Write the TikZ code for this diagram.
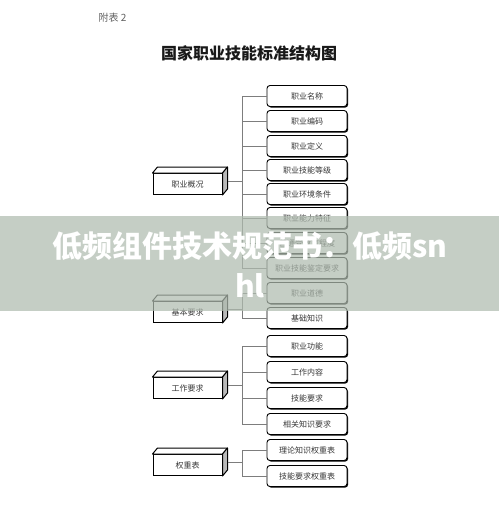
\documentclass[tikz,border=0pt]{standalone}
\usepackage{fontspec}
\newfontfamily\cjk{Noto Sans CJK SC}
\usetikzlibrary{shadows,calc}
\definecolor{band}{RGB}{176,188,176}
\definecolor{wirec}{RGB}{125,125,125}
\definecolor{txt}{RGB}{55,55,55}
\begin{document}
\begin{tikzpicture}[x=1pt,y=-1pt,font=\cjk,
  leaf/.style={draw=black,line width=0.9pt,rounded corners=3pt,minimum width=80,minimum height=21,inner sep=0pt,fill=white,text=txt,font=\cjk\fontsize{8}{9}\selectfont,drop shadow={shadow xshift=1.1pt,shadow yshift=-1.1pt,fill=black,opacity=1}},
  front/.style={draw=black,line width=1pt,minimum width=69,minimum height=21,inner sep=0pt,fill=white,text=txt,font=\cjk\fontsize{8}{9}\selectfont},
  sideface/.style={draw=black,line width=1pt,fill=gray!55,line join=round},
  topface/.style={draw=black,line width=1pt,fill=white,line join=round},
  wire/.style={draw=wirec,line width=0.8pt}]
\useasboundingbox (0,0) rectangle (499,528);
\fill[white] (0,0) rectangle (499,528);

\node[anchor=west,text=gray!75!black,font=\cjk\fontsize{10}{12}\selectfont] (hdr) at (95,18) {附表 2};
\node[font=\cjk\bfseries\fontsize{16}{18}\selectfont,text=black!90] (ttl) at (249,53) {国家职业技能标准结构图};

% leaves
\foreach \i/\y/\t in {1/96/职业名称,2/121/职业编码,3/146/职业定义,4/170/职业技能等级,5/194/职业环境条件,6/218/职业能力特征,7/243/普通受教育程度,8/268/职业技能鉴定要求,9/293/职业道德,10/318/基础知识,11/346/职业功能,12/372/工作内容,13/398/技能要求,14/424/相关知识要求,15/450/理论知识权重表,16/476/技能要求权重表}{
  \node[leaf] (l\i) at (307,\y) {\t};
}

% prisms
\foreach \g/\y/\t in {1/184/职业概况,2/312/基本要求,3/388/工作要求,4/465/权重表}{
  \node[front] (p\g) at (187.5,\y) {\t};
  \draw[topface] (p\g.north west) -- ++(5,-6) -- ($(p\g.north east)+(5,-6)$) -- (p\g.north east) -- cycle;
  \draw[sideface] (p\g.north east) -- ++(5,-6) -- ($(p\g.south east)+(5,-6)$) -- (p\g.south east) -- cycle;
  \coordinate (ps\g) at ($(p\g.east)+(5,-3)$);
}

\coordinate (j) at (242,0);
% group 1
\draw[wire] (ps1) -- (ps1 -| j);
\draw[wire] (j |- l1.west) -- (j |- l8.west);
\foreach \i in {1,...,8}{\draw[wire] (j |- l\i.west) -- (l\i.west);}
% group 2
\draw[wire] (ps2) -- (ps2 -| j);
\draw[wire] (j |- l9.west) -- (j |- l10.west);
\foreach \i in {9,10}{\draw[wire] (j |- l\i.west) -- (l\i.west);}
% group 3
\draw[wire] (ps3) -- (ps3 -| j);
\draw[wire] (j |- l11.west) -- (j |- l14.west);
\foreach \i in {11,...,14}{\draw[wire] (j |- l\i.west) -- (l\i.west);}
% group 4
\draw[wire] (ps4) -- (ps4 -| j);
\draw[wire] (j |- l15.west) -- (j |- l16.west);
\foreach \i in {15,16}{\draw[wire] (j |- l\i.west) -- (l\i.west);}

% overlay band
\fill[band,opacity=0.72] (0,216) rectangle (499,311);
\node[text=white,font=\cjk\bfseries\fontsize{30}{40}\selectfont,align=center] (ovl) at (250,265) {低频组件技术规范书：低频sn\\hl};
\end{tikzpicture}
\end{document}
